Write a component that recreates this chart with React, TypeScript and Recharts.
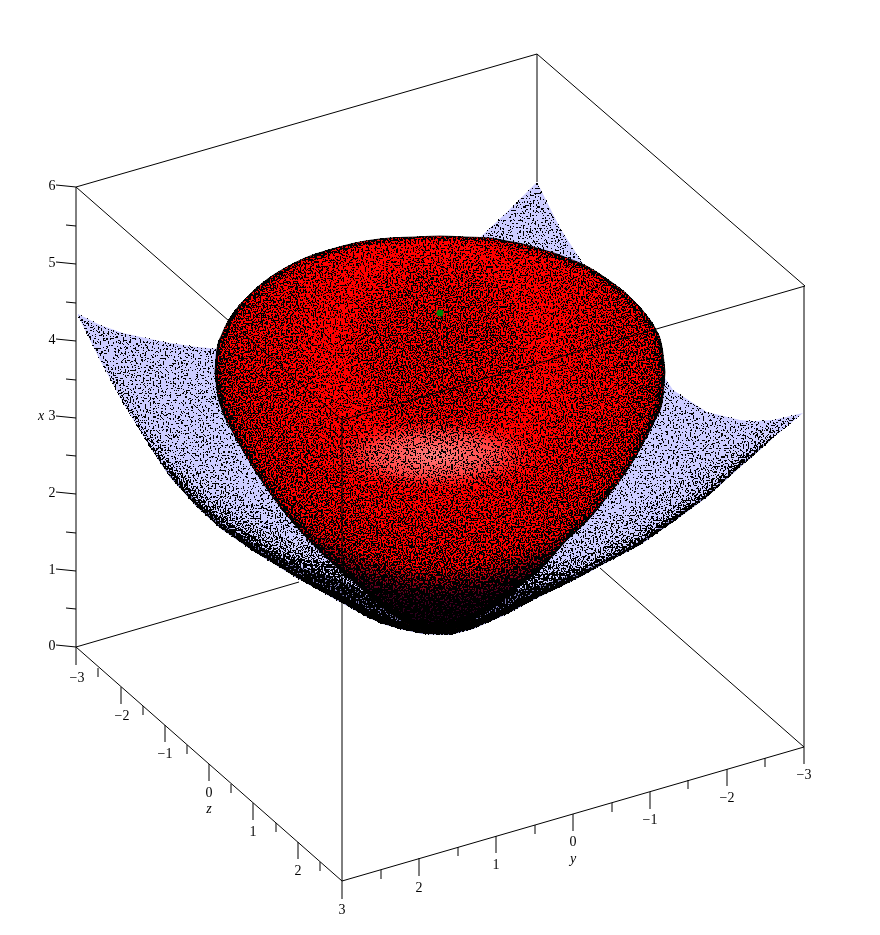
import { ComposedChart, Area, Line, Scatter, XAxis, YAxis } from 'recharts';

const surfaceX = [78, 100, 123, 150, 170, 197, 220, 253, 297, 342, 367, 383, 400, 423, 450, 473, 507, 537, 560, 582, 600, 640, 673, 707, 740, 753, 773, 803];
const surfaceTop = [314, 325, 333, 339, 343, 347, 349, 340, 320, 300, 290, 283, 275, 262, 250, 244, 212, 182, 228, 262, 285, 340, 390, 412, 420, 421, 420, 413];
const surfaceBottom = [316, 360, 403, 447, 477, 507, 528, 551, 578, 603, 617, 624, 629, 634, 635, 629, 614, 598, 587, 576, 566, 545, 522, 497, 467, 456, 438, 413];

// how far above the lower edge each stipple band reaches
const bandRises = [
  [0, 10, 18, 22, 28, 36, 42, 50, 60, 70, 70, 70, 70, 70, 70, 70, 70, 70, 55, 45, 40, 38, 36, 34, 28, 24, 16, 0],
  [0, 0, 6, 10, 15, 20, 22, 26, 34, 52, 52, 52, 52, 52, 52, 52, 52, 34, 26, 20, 16, 16, 15, 14, 12, 10, 5, 0],
  [0, 0, 0, 4, 8, 10, 12, 15, 20, 38, 38, 38, 38, 38, 38, 38, 38, 24, 16, 10, 8, 8, 8, 7, 6, 4, 2, 0],
  [0, 0, 0, 0, 3, 5, 6, 8, 12, 22, 22, 22, 22, 22, 22, 22, 22, 12, 8, 5, 4, 4, 4, 3, 2, 2, 0, 0],
  [0, 0, 0, 0, 0, 2, 3, 4, 5, 8, 8, 8, 8, 8, 8, 8, 8, 6, 4, 3, 2, 2, 2, 2, 0, 0, 0, 0],
];
const bandDensity = [0.3, 0.48, 0.7, 0.88, 1];

const bodyX = [215, 217, 222, 230, 238, 248, 265, 285, 305, 332, 355, 390, 415, 440, 465, 490, 507, 523, 540, 557, 567, 580, 590, 607, 630, 647, 655, 662, 665];
const bodyTop = [372, 349, 334, 318, 307, 296, 281, 268, 258, 249, 243, 238, 237, 236, 237, 238, 241, 244, 249, 254, 258, 263, 268, 279, 297, 316, 328, 347, 372];
const bodyBottom = [372, 390, 410, 427, 442, 459, 486, 513, 536, 563, 583, 613, 627, 633, 624, 609, 597, 583, 570, 551, 540, 528, 518, 497, 466, 436, 420, 403, 372];

// back edges stop where the surface hides them
const backEdges = [
  [76, 187, 537, 54],
  [537, 54, 805, 286],
  [537, 54, 537, 182],
  [76, 647, 299, 582],
  [804, 747, 600, 568],
];
const frontEdges = [
  [76, 187, 342, 420],
  [805, 286, 342, 420],
  [342, 420, 342, 881],
  [76, 187, 76, 647],
  [804, 286, 804, 747],
  [76, 647, 342, 881],
  [342, 881, 804, 747],
];

// tick marks as [x1, y1, x2, y2]
const xTicks = [
  [56, 185, 76, 187], [66, 225, 76, 226], [56, 262, 76, 264], [66, 302, 76, 303], [56, 339, 76, 341], [66, 379, 76, 380],
  [56, 416, 76, 418], [66, 455, 76, 456], [56, 492, 76, 494], [66, 532, 76, 533], [56, 569, 76, 571], [66, 608, 76, 609], [56, 645, 76, 647],
];
const zTicks = [
  [76, 647, 76, 665], [98, 668, 98, 677], [121, 687, 121, 704], [143, 706, 143, 715], [165, 725, 165, 742], [187, 745, 187, 754],
  [209, 764, 209, 781], [231, 784, 231, 793], [253, 803, 253, 820], [276, 823, 276, 832], [298, 842, 298, 859], [320, 862, 320, 871], [342, 881, 342, 899],
];
const yTicks = [
  [381, 870, 381, 879], [419, 858, 419, 876], [458, 847, 458, 856], [496, 836, 496, 853], [535, 825, 535, 834], [573, 814, 573, 831],
  [612, 803, 612, 812], [650, 792, 650, 809], [688, 780, 688, 789], [727, 769, 727, 786], [765, 758, 765, 767], [804, 747, 804, 764],
];

const numberLabels = [
  { x: 52, y: 185, t: '6' }, { x: 52, y: 262, t: '5' }, { x: 52, y: 339, t: '4' }, { x: 52, y: 415, t: '3' },
  { x: 52, y: 492, t: '2' }, { x: 52, y: 569, t: '1' }, { x: 52, y: 645, t: '0' },
  { x: 77, y: 677, t: '−3' }, { x: 122, y: 715, t: '−2' }, { x: 165, y: 753, t: '−1' }, { x: 209, y: 792, t: '0' },
  { x: 253, y: 831, t: '1' }, { x: 298, y: 870, t: '2' }, { x: 342, y: 909, t: '3' },
  { x: 419, y: 887, t: '2' }, { x: 496, y: 864, t: '1' }, { x: 573, y: 841, t: '0' },
  { x: 650, y: 819, t: '−1' }, { x: 727, y: 797, t: '−2' }, { x: 804, y: 774, t: '−3' },
];
const axisNames = [
  { x: 41, y: 415, t: 'x' },
  { x: 209, y: 808, t: 'z' },
  { x: 573, y: 858, t: 'y' },
];
const centerPoint = [{ x: 440, y: 313 }];

const surfaceRows = surfaceX.map((x, i) => ({ x, range: [surfaceTop[i], surfaceBottom[i]] }));
const bodyRows = bodyX.map((x, i) => ({ x, range: [bodyTop[i], bodyBottom[i]] }));
const bandRows = bandRises.map((rise) =>
  surfaceX.map((x, i) => ({ x, range: [surfaceBottom[i] - rise[i], surfaceBottom[i]] })),
);

const seg = (s: number[]) => [
  { x: s[0], y: s[1] },
  { x: s[2], y: s[3] },
];

const Txt = (italic: boolean) => (p: any) => (
  <text
    x={p.cx}
    y={p.cy}
    dy="0.35em"
    textAnchor="middle"
    fontFamily="'Liberation Serif'"
    fontSize={14}
    fontStyle={italic ? 'italic' : 'normal'}
    fill="#000"
    opacity={0.99}
  >
    {p.payload.t}
  </text>
);

function Stipple({ id, edge }: { id: string; edge: boolean }) {
  return (
    <filter id={id} filterUnits="userSpaceOnUse" x={0} y={0} width={880} height={935} colorInterpolationFilters="sRGB">
      <feTurbulence type="fractalNoise" baseFrequency="0.6" numOctaves={1} seed={4} result="t" />
      <feColorMatrix in="t" type="matrix" values="0 0 0 0 0  0 0 0 0 0  0 0 0 0 0  3.4 0 0 0 -1.2" result="n" />
      <feComponentTransfer in="SourceAlpha" result="mask">
        <feFuncA type="linear" slope={200} />
      </feComponentTransfer>
      {edge ? <feGaussianBlur in="mask" stdDeviation={5} result="soft" /> : null}
      {edge ? (
        <feComponentTransfer in="soft" result="rim">
          <feFuncA type="table" tableValues="0.75 0.75 0.35 0" />
        </feComponentTransfer>
      ) : null}
      {edge ? <feComposite in="SourceAlpha" in2="rim" operator="arithmetic" k2={1} k3={1} result="density" /> : null}
      <feComposite in="n" in2={edge ? 'density' : 'SourceAlpha'} operator="arithmetic" k2={1} k3={1} k4={-0.5} result="sum" />
      <feComponentTransfer in="sum" result="hard">
        <feFuncA type="discrete" tableValues="0 1" />
      </feComponentTransfer>
      <feComposite in="hard" in2="mask" operator="in" />
    </filter>
  );
}

export default function App() {
  return (
    <div style={{ position: 'absolute', left: 0, top: 0, width: 880, height: 935, background: '#fff' }}>
      <ComposedChart width={880} height={935} margin={{ top: 0, right: 0, bottom: 0, left: 0 }}>
        <defs>
          <Stipple id="dots" edge={false} />
          <Stipple id="rimDots" edge={true} />
          <radialGradient id="glow" gradientUnits="userSpaceOnUse" cx={0} cy={0} r={115} gradientTransform="translate(435 455) scale(1 0.33)">
            <stop offset="0" stopColor="#ff8080" stopOpacity={1} />
            <stop offset="0.55" stopColor="#ff6060" stopOpacity={0.7} />
            <stop offset="1" stopColor="#ff0000" stopOpacity={0} />
          </radialGradient>
          <radialGradient id="shadow" gradientUnits="userSpaceOnUse" cx={440} cy={350} r={285}>
            <stop offset="0.76" stopColor="#10002a" stopOpacity={0} />
            <stop offset="0.87" stopColor="#10002a" stopOpacity={0.75} />
            <stop offset="1" stopColor="#060018" stopOpacity={1} />
          </radialGradient>
          <radialGradient id="bodyDensity" gradientUnits="userSpaceOnUse" cx={440} cy={350} r={285}>
            <stop offset="0" stopColor="#000" stopOpacity={0.5} />
            <stop offset="0.25" stopColor="#000" stopOpacity={0.44} />
            <stop offset="0.37" stopColor="#000" stopOpacity={0.26} />
            <stop offset="0.5" stopColor="#000" stopOpacity={0.38} />
            <stop offset="0.65" stopColor="#000" stopOpacity={0.46} />
            <stop offset="0.77" stopColor="#000" stopOpacity={0.52} />
            <stop offset="0.88" stopColor="#000" stopOpacity={0.85} />
            <stop offset="1" stopColor="#000" stopOpacity={1} />
          </radialGradient>
        </defs>
        <XAxis type="number" dataKey="x" domain={[0, 880]} hide />
        <YAxis type="number" dataKey="y" domain={[0, 935]} reversed hide />

        {backEdges.map((s, i) => (
          <Line key={'b' + i} data={seg(s)} dataKey="y" stroke="#000" strokeWidth={1} dot={false} isAnimationActive={false} />
        ))}

        <Area data={surfaceRows} dataKey="range" type="linear" stroke="none" fill="#ccccff" fillOpacity={1} isAnimationActive={false} />
        <Area data={bandRows[3]} dataKey="range" type="linear" stroke="none" fill="#202060" fillOpacity={0.5} isAnimationActive={false} />
        <Area data={surfaceRows} dataKey="range" type="linear" stroke="none" fill="#000" fillOpacity={0.17} filter="url(#dots)" isAnimationActive={false} />
        {bandRows.map((rows, i) => (
          <Area key={'d' + i} data={rows} dataKey="range" type="linear" stroke="none" fill="#000" fillOpacity={bandDensity[i]} filter="url(#dots)" isAnimationActive={false} />
        ))}

        <Area data={bodyRows} dataKey="range" type="monotoneX" stroke="#000" strokeWidth={0.8} fill="#ff0000" fillOpacity={1} isAnimationActive={false} />
        <Area data={bodyRows} dataKey="range" type="monotoneX" stroke="none" fill="url(#glow)" fillOpacity={1} isAnimationActive={false} />
        <Area data={bodyRows} dataKey="range" type="monotoneX" stroke="none" fill="url(#shadow)" fillOpacity={1} isAnimationActive={false} />
        <Area data={bodyRows} dataKey="range" type="monotoneX" stroke="none" fill="url(#bodyDensity)" fillOpacity={1} filter="url(#rimDots)" isAnimationActive={false} />

        {frontEdges.map((s, i) => (
          <Line key={'f' + i} data={seg(s)} dataKey="y" stroke="#000" strokeWidth={1} dot={false} isAnimationActive={false} />
        ))}
        {[...xTicks, ...zTicks, ...yTicks].map((s, i) => (
          <Line key={'t' + i} data={seg(s)} dataKey="y" stroke="#000" strokeWidth={1} dot={false} isAnimationActive={false} />
        ))}

        <Scatter data={centerPoint} dataKey="y" fill="#008000" isAnimationActive={false} shape={(p: any) => <circle cx={p.cx} cy={p.cy} r={3.5} fill="#008000" />} />
        <Scatter data={numberLabels} dataKey="y" isAnimationActive={false} shape={Txt(false)} />
        <Scatter data={axisNames} dataKey="y" isAnimationActive={false} shape={Txt(true)} />
      </ComposedChart>
    </div>
  );
}
